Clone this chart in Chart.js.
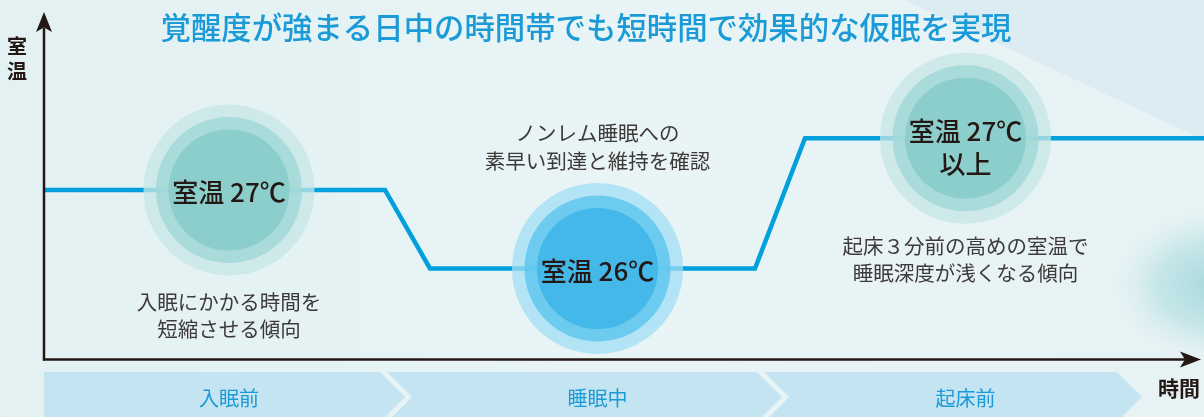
<!DOCTYPE html>
<html><head><meta charset="utf-8">
<script src="https://cdn.jsdelivr.net/npm/chart.js@4.4.1/dist/chart.umd.min.js"></script>
<style>html,body{margin:0;padding:0;background:#e6f3f4;overflow:hidden}#wrap{width:1204px;height:417px;position:relative}canvas{display:block}</style>
</head><body><div id="wrap"><canvas id="c" width="1204" height="417"></canvas></div>
<script>
// ---- data ----
const timePoints = [0, 34.1, 38.6, 71.1, 76.1, 116];
const roomTemps = [27, 27, 26, 26, 27.66, 27.66];
const circleTimes = [18.5, 55.35, 92.15];
const circleTemps = [27, 26, 27.66];
const circleLabels = [['室温 27℃'], ['室温 26℃'], ['室温 27℃', '以上']];
const notes = [['入眠にかかる時間を', '短縮させる傾向'], ['ノンレム睡眠への', '素早い到達と維持を確認'], ['起床３分前の高めの室温で', '睡眠深度が浅くなる傾向']];
const phaseLabels = ['入眠前', '睡眠中', '起床前'];
const phaseStart = [0, 34.3, 72.0];
const phaseEnd = [33.6, 71.3, 107.3];
const titleText = '覚醒度が強まる日中の時間帯でも短時間で効果的な仮眠を実現';
const yAxisTitle = ['室', '温'];
const xAxisTitle = '時間';
const xMin = 0, xMax = 116;
const yMin = 24.847, yMax = 29.2675;

// ---- styles ----
const FONT = '"Noto Sans CJK JP", "Noto Sans", sans-serif';
const ringStyles = [
  { r: 85.5, colors: ['rgba(197,230,229,0.75)', 'rgba(162,223,245,0.75)', 'rgba(197,230,229,0.75)'] },
  { r: 73, colors: ['rgba(161,216,214,0.85)', 'rgba(95,199,237,0.85)', 'rgba(161,216,214,0.85)'] },
  { r: 60.5, colors: ['#8ccecb', '#44b8e8', '#8ccecb'] }
];
const labelOffsets = [[2], [3], [-7, 26]];
const noteOffsets = [112, -135, 108];
const noteLineGap = 27.5;

const circlePts = circleTimes.map((t, i) => ({ x: t, y: circleTemps[i] }));

const decorPlugin = {
  id: 'decor',
  beforeDraw(chart) {
    const c = chart.ctx, W = chart.width, H = chart.height;
    c.save();
    let g = c.createLinearGradient(0, 0, W, 0);
    g.addColorStop(0, '#e3f1f3'); g.addColorStop(0.5, '#e8f4f5'); g.addColorStop(1, '#e6f2f4');
    c.fillStyle = g; c.fillRect(0, 0, W, H);
    c.fillStyle = '#dbedf3';
    c.beginPath(); c.moveTo(905, 0); c.lineTo(W, 0); c.lineTo(W, 140); c.closePath(); c.fill();
    c.save();
    c.translate(1215, 285); c.scale(1, 0.75);
    const rg = c.createRadialGradient(0, 0, 5, 0, 0, 100);
    rg.addColorStop(0, 'rgba(168,218,220,1)'); rg.addColorStop(0.55, 'rgba(185,225,228,0.7)'); rg.addColorStop(1, 'rgba(210,236,238,0)');
    c.fillStyle = rg; c.fillRect(-120, -120, 240, 240);
    c.restore();
    // phase band
    const xs = chart.scales.x, a = chart.chartArea;
    const top = a.bottom + 13, tip = 25;
    c.fillStyle = '#c3e4f0';
    phaseLabels.forEach((lab, i) => {
      const x0 = xs.getPixelForValue(phaseStart[i]), x1 = xs.getPixelForValue(phaseEnd[i]);
      c.beginPath();
      c.moveTo(x0, top); c.lineTo(x1, top); c.lineTo(x1 + tip, top + tip); c.lineTo(x1, top + 2 * tip);
      c.lineTo(x0, top + 2 * tip);
      if (i > 0) c.lineTo(x0 + tip, top + tip);
      c.closePath(); c.fill();
    });
    c.fillStyle = '#1a9ad6';
    c.font = '400 20px ' + FONT; c.textAlign = 'center'; c.textBaseline = 'middle';
    phaseLabels.forEach((lab, i) => {
      c.fillText(lab, xs.getPixelForValue(circleTimes[i]), top + 26);
    });
    c.restore();
  },
  afterDatasetsDraw(chart) {
    const c = chart.ctx, xs = chart.scales.x, ys = chart.scales.y, a = chart.chartArea;
    c.save();
    // axes
    c.strokeStyle = '#231815'; c.fillStyle = '#231815'; c.lineWidth = 2.5;
    const ox = a.left, oy = a.bottom + 0.5;
    c.beginPath(); c.moveTo(ox, oy + 1); c.lineTo(ox, 28); c.stroke();
    c.beginPath(); c.moveTo(ox, 12); c.lineTo(ox - 8, 32); c.lineTo(ox, 27.5); c.lineTo(ox + 8, 32); c.closePath(); c.fill();
    c.beginPath(); c.moveTo(ox - 1, oy); c.lineTo(1186, oy); c.stroke();
    c.beginPath(); c.moveTo(1201, oy); c.lineTo(1180, oy - 8); c.lineTo(1185, oy); c.lineTo(1180, oy + 8); c.closePath(); c.fill();
    // axis titles
    c.textAlign = 'center'; c.textBaseline = 'middle';
    c.font = '700 20px ' + FONT;
    c.fillText(yAxisTitle[0], 17, 46.5);
    c.fillText(yAxisTitle[1], 17, 71);
    c.font = '700 21px ' + FONT;
    c.fillText(xAxisTitle, 1179, 388);
    // title
    c.fillStyle = '#1a9ad6';
    c.font = '500 30.4px ' + FONT;
    c.fillText(titleText, 586, 27);
    // circle labels and notes
    circlePts.forEach((p, i) => {
      const px = xs.getPixelForValue(p.x), py = ys.getPixelForValue(p.y);
      c.fillStyle = '#231815';
      c.font = '500 26px ' + FONT;
      circleLabels[i].forEach((t, j) => c.fillText(t, px, py + labelOffsets[i][j]));
      c.fillStyle = '#3e3a39';
      c.font = '400 20.5px ' + FONT;
      notes[i].forEach((t, j) => c.fillText(t, px, py + noteOffsets[i] + j * noteLineGap));
    });
    c.restore();
  }
};

const datasets = [{
  label: '室温',
  data: timePoints.map((t, i) => ({ x: t, y: roomTemps[i] })),
  showLine: true, borderColor: '#00a0dc', borderWidth: 4.5, pointRadius: 0,
  tension: 0, borderJoinStyle: 'miter', order: 10, clip: false
}];
ringStyles.forEach((rs, k) => {
  datasets.push({
    label: 'ring' + k, data: circlePts, showLine: false,
    pointRadius: rs.r, pointHoverRadius: rs.r, pointBorderWidth: 0,
    pointBackgroundColor: rs.colors, pointBorderColor: 'rgba(0,0,0,0)',
    order: 3 - k, clip: false
  });
});

new Chart(document.getElementById('c'), {
  type: 'scatter',
  data: { datasets },
  options: {
    responsive: false, animation: false, events: [],
    layout: { autoPadding: false, padding: { left: 44, right: 0, top: 12, bottom: 58 } },
    scales: {
      x: { type: 'linear', min: xMin, max: xMax, display: false },
      y: { type: 'linear', min: yMin, max: yMax, display: false }
    },
    plugins: { legend: { display: false }, tooltip: { enabled: false } }
  },
  plugins: [decorPlugin]
});
</script>
</body></html>
